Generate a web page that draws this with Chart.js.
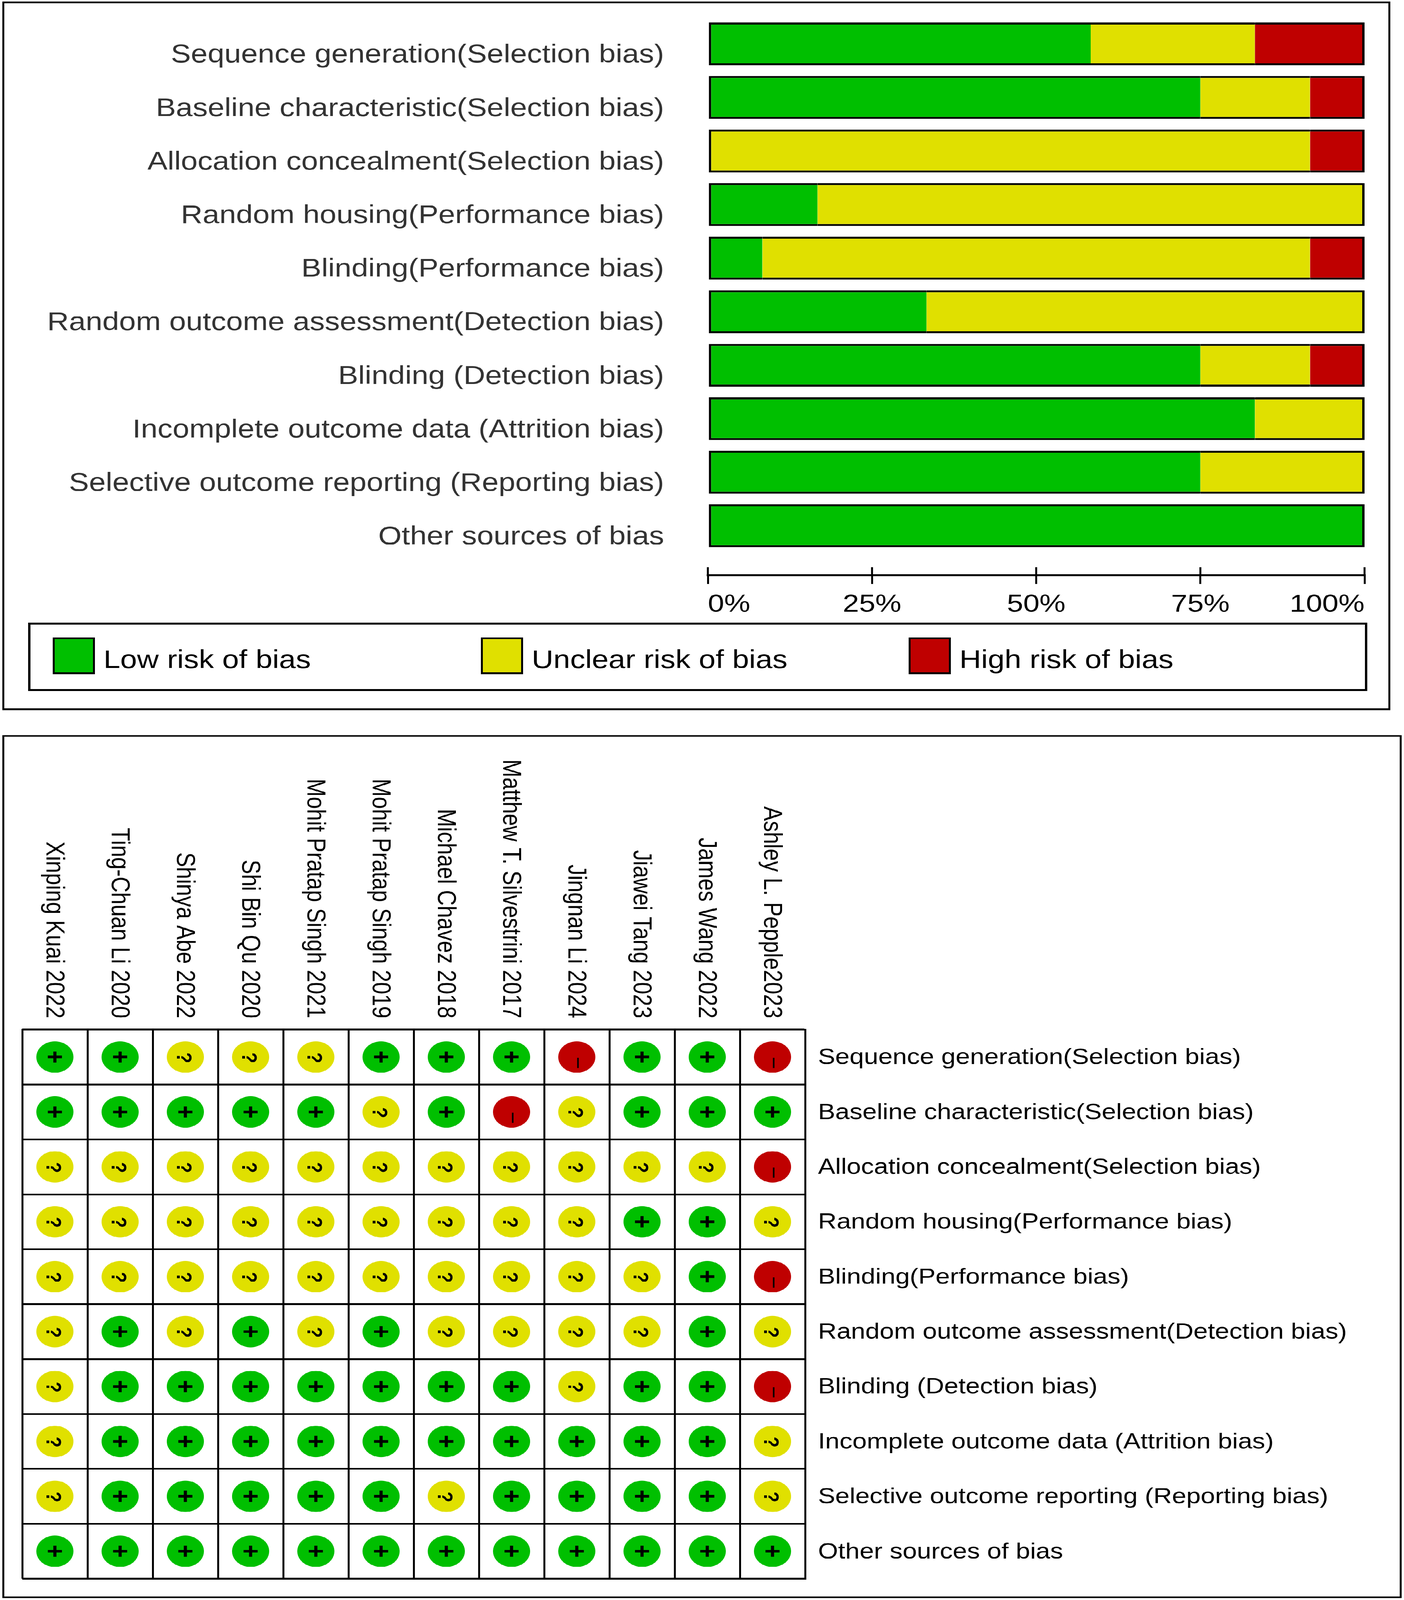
<!DOCTYPE html>
<html>
<head>
<meta charset="utf-8">
<script src="https://cdn.jsdelivr.net/npm/chart.js@4.4.1/dist/chart.umd.min.js"></script>
<style>
html,body{margin:0;padding:0;background:#fff;overflow:hidden;}
#page{position:absolute;left:0;top:0;width:3594px;height:4847px;background:#fff;transform-origin:0 0;}
.panel{position:absolute;box-sizing:border-box;border:5px solid #000;}
canvas{position:absolute;}
</style>
</head>
<body>
<div id="page">
<div class="panel" style="left:6px;top:5px;width:3553px;height:2146px"></div>
<div class="panel" style="left:6px;top:2227px;width:3582px;height:2614px"></div>
<canvas id="summary" width="3594" height="2200" style="left:0;top:0;width:3594px;height:2200px"></canvas>
<canvas id="grid" width="3594" height="2590" style="left:0;top:2240px;width:3594px;height:2590px"></canvas>
</div>
<script>
// fit the 3594x4847 layout into the viewport the browser actually provides
(function () {
  const sy = Math.min(1, window.innerHeight / 4847);
  const sx = Math.min(1, window.innerWidth / 3594);
  document.getElementById('page').style.transform = 'scale(' + sx + ',' + sy + ')';
})();

// ---------------- data ----------------
const domains = [
  'Sequence generation(Selection bias)',
  'Baseline characteristic(Selection bias)',
  'Allocation concealment(Selection bias)',
  'Random housing(Performance bias)',
  'Blinding(Performance bias)',
  'Random outcome assessment(Detection bias)',
  'Blinding (Detection bias)',
  'Incomplete outcome data (Attrition bias)',
  'Selective outcome reporting (Reporting bias)',
  'Other sources of bias'
];
const studies = [
  'Xinping Kuai 2022', 'Ting-Chuan Li 2020', 'Shinya Abe 2022', 'Shi Bin Qu 2020',
  'Mohit Pratap Singh 2021', 'Mohit Pratap Singh 2019', 'Michael Chavez 2018',
  'Matthew T. Silvestrini 2017', 'Jingnan Li 2024', 'Jiawei Tang 2023',
  'James Wang 2022', 'Ashley L. Pepple2023'
];
const riskLabels = ['Low risk of bias', 'Unclear risk of bias', 'High risk of bias'];
const riskSymbols = ['+', '?', '-'];

// percentages per domain (top summary chart)
const lowRisk     = [58.3, 75,   0,    16.7, 8.3,  33.3, 75,   83.3, 75, 100];
const unclearRisk = [25,   16.7, 91.7, 83.3, 83.4, 66.7, 16.7, 16.7, 25, 0];
const highRisk    = [16.7, 8.3,  8.3,  0,    8.3,  0,    8.3,  0,    0,  0];

const xTickValues = [0, 25, 50, 75, 100];
const xTickLabels = ['0%', '25%', '50%', '75%', '100%'];

// judgements per domain, one entry per study (bottom grid)
const sequenceGeneration      = ['+','+','?','?','?','+','+','+','-','+','+','-'];
const baselineCharacteristic  = ['+','+','+','+','+','?','+','-','?','+','+','+'];
const allocationConcealment   = ['?','?','?','?','?','?','?','?','?','?','?','-'];
const randomHousing           = ['?','?','?','?','?','?','?','?','?','+','+','?'];
const blindingPerformance     = ['?','?','?','?','?','?','?','?','?','?','+','-'];
const randomOutcomeAssessment = ['?','+','?','+','?','+','?','?','?','?','+','?'];
const blindingDetection       = ['?','+','+','+','+','+','+','+','?','+','+','-'];
const incompleteOutcomeData   = ['?','+','+','+','+','+','+','+','+','+','+','?'];
const selectiveReporting      = ['?','+','+','+','+','+','?','+','+','+','+','?'];
const otherSources            = ['+','+','+','+','+','+','+','+','+','+','+','+'];
const judgementRows = [sequenceGeneration, baselineCharacteristic, allocationConcealment,
  randomHousing, blindingPerformance, randomOutcomeAssessment, blindingDetection,
  incompleteOutcomeData, selectiveReporting, otherSources];

// ---------------- styles ----------------
const FONT = "'Liberation Sans', Arial, Helvetica, sans-serif";
const riskColors = ['#00BF00', '#E0E000', '#BF0000'];
Chart.defaults.font.family = FONT;

// ---------------- top summary chart ----------------
const series = [lowRisk, unclearRisk, highRisk];
function segmentBorder(ctx) {
  const i = ctx.dataIndex, d = ctx.datasetIndex;
  if (!series[d][i]) return 0;
  let first = -1, last = -1;
  series.forEach((s, k) => { if (s[i] > 0) { if (first < 0) first = k; last = k; } });
  return { top: 6, bottom: 6, left: d === first ? 6 : 0, right: d === last ? 6 : 0 };
}

const summaryPlugin = {
  id: 'summaryExtras',
  afterDraw(chart) {
    const ctx = chart.ctx;
    const xs = chart.scales.x;
    const top = chart.chartArea.bottom;
    ctx.save();
    // upper half of the tick marks (they cross the axis line)
    ctx.strokeStyle = '#000';
    ctx.lineWidth = 5;
    xs.ticks.forEach((t, i) => {
      const px = xs.getPixelForTick(i);
      ctx.beginPath();
      ctx.moveTo(px, top);
      ctx.lineTo(px, top - 25);
      ctx.stroke();
    });
    // framed legend
    ctx.lineWidth = 6;
    ctx.strokeRect(75, 1889, 3422, 201);
    const itemX = [135, 1231, 2326];
    ctx.font = '77px ' + FONT;
    ctx.textBaseline = 'alphabetic';
    ctx.textAlign = 'left';
    chart.data.datasets.forEach((ds, k) => {
      const x = itemX[k];
      ctx.fillStyle = '#000';
      ctx.fillRect(x, 1931, 108, 111);
      ctx.fillStyle = ds.backgroundColor;
      ctx.fillRect(x + 5, 1936, 98, 101);
      ctx.fillStyle = '#000';
      ctx.fillText(ds.label, x + 130, 2024);
    });
    ctx.restore();
  }
};

new Chart(document.getElementById('summary'), {
  type: 'bar',
  data: {
    datasets: series.map((s, k) => ({
      label: riskLabels[k],
      data: s.map((v, i) => ({ x: v, y: i })),
      backgroundColor: riskColors[k],
      borderColor: '#000',
      borderWidth: segmentBorder,
      borderSkipped: false,
      stack: 'all',
      barPercentage: 0.8,
      categoryPercentage: 1.0
    }))
  },
  options: {
    indexAxis: 'y',
    responsive: false,
    devicePixelRatio: 1,
    animation: false,
    events: [],
    layout: { padding: { left: 0, top: 52, right: 101, bottom: 307 } },
    plugins: { legend: { display: false }, tooltip: { enabled: false } },
    scales: {
      x: {
        type: 'linear', min: 0, max: 100, stacked: true, position: 'bottom',
        afterBuildTicks: s => { s.ticks = xTickValues.map(v => ({ value: v })); },
        ticks: {
          callback: v => xTickLabels[xTickValues.indexOf(v)],
          align: 'inner', padding: 18, color: '#000',
          font: { size: 75 }, autoSkip: false, maxRotation: 0
        },
        grid: { display: true, drawOnChartArea: false, drawTicks: true, tickLength: 26, lineWidth: 5, color: '#000' },
        border: { display: true, color: '#000', width: 6 },
        afterFit: s => { s.height = 150; s.paddingLeft = 0; s.paddingRight = 0; }
      },
      y: {
        type: 'linear', min: -0.5, max: 9.925, reverse: true, stacked: true, offset: false,
        afterBuildTicks: s => { s.ticks = domains.map((_, i) => ({ value: i })); },
        ticks: {
          callback: v => domains[v],
          color: '#333333', font: { size: 77 }, padding: 0, labelOffset: 35, autoSkip: false
        },
        grid: { display: false, drawTicks: true, tickLength: 112 },
        border: { display: false },
        afterFit: s => { s.width = 1812; s.paddingTop = 0; s.paddingBottom = 0; }
      }
    }
  },
  plugins: [summaryPlugin]
});

// ---------------- bottom grid chart ----------------
const gridDatasets = riskSymbols.map((sym, k) => {
  const pts = [];
  judgementRows.forEach((row, r) => {
    row.forEach((j, c) => { if (j === sym) pts.push({ x: studies[c], y: domains[r] }); });
  });
  return { label: riskLabels[k], data: pts, backgroundColor: riskColors[k], borderWidth: 0 };
});

const gridPlugin = {
  id: 'gridExtras',
  afterDatasetsDraw(chart) {
    const ctx = chart.ctx;
    ctx.save();
    ctx.fillStyle = '#000';
    chart.data.datasets.forEach((ds, d) => {
      const sym = riskSymbols[d];
      chart.getDatasetMeta(d).data.forEach(pt => {
        const x = pt.x, y = pt.y;
        if (sym === '+') {
          ctx.fillRect(x - 18, y - 4, 36, 8);
          ctx.fillRect(x - 4, y - 17, 8, 34);
        } else if (sym === '?') {
          ctx.save();
          ctx.translate(x - 3, y + 2);
          ctx.rotate(Math.PI / 2);
          ctx.font = 'bold 54px ' + FONT;
          ctx.textAlign = 'center';
          ctx.textBaseline = 'alphabetic';
          ctx.fillText('?', 0, 19);
          ctx.restore();
        } else {
          ctx.fillRect(x + 1, y + 2, 4, 31);
        }
      });
    });
    ctx.restore();
  },
  afterDraw(chart) {
    const ctx = chart.ctx;
    const xs = chart.scales.x;
    const top = chart.chartArea.top;
    ctx.save();
    ctx.fillStyle = '#000';
    ctx.font = '66px ' + FONT;
    ctx.textAlign = 'right';
    ctx.textBaseline = 'middle';
    studies.forEach((s, i) => {
      const px = xs.getPixelForValue(i);
      ctx.save();
      ctx.translate(px - 3, top - 34);
      ctx.rotate(Math.PI / 2);
      ctx.fillText(s, 0, 0);
      ctx.restore();
    });
    ctx.restore();
  }
};

new Chart(document.getElementById('grid'), {
  type: 'scatter',
  data: { datasets: gridDatasets },
  options: {
    responsive: false,
    devicePixelRatio: 1,
    animation: false,
    events: [],
    layout: { padding: { left: 57, top: 879, right: 0, bottom: 41 } },
    plugins: { legend: { display: false }, tooltip: { enabled: false } },
    elements: { point: { radius: 47.5, hoverRadius: 47.5, borderWidth: 0, hoverBorderWidth: 0 } },
    scales: {
      x: {
        type: 'category', labels: studies, position: 'top', offset: true,
        grid: { offset: true, color: '#000', lineWidth: 5, drawTicks: false },
        border: { display: true, color: '#000', width: 5 },
        ticks: { display: false },
        afterFit: s => { s.height = 0; s.paddingLeft = 0; s.paddingRight = 0; }
      },
      y: {
        type: 'category', labels: domains, position: 'right', offset: true,
        grid: { offset: true, color: '#000', lineWidth: 5, drawTicks: false },
        border: { display: true, color: '#000', width: 5 },
        ticks: { color: '#000', font: { size: 66 }, padding: 33, labelOffset: 3, autoSkip: false },
        afterFit: s => { s.width = 1533; s.paddingTop = 0; s.paddingBottom = 0; }
      }
    }
  },
  plugins: [gridPlugin]
});
</script>
</body>
</html>
